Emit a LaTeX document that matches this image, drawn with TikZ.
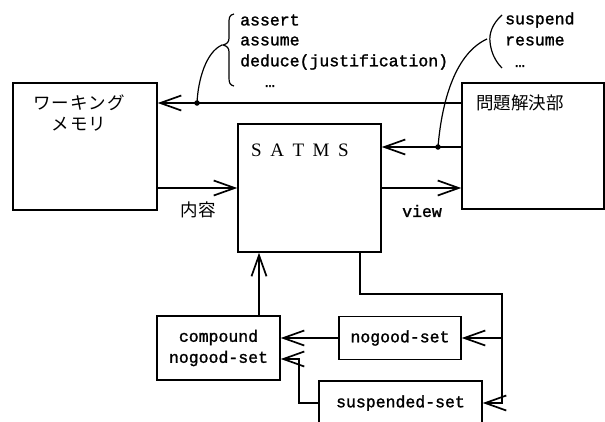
\documentclass[tikz,border=0pt]{standalone}
\usepackage{fontspec}
\setmainfont{Liberation Serif}
\newfontfamily\mono{Liberation Mono}[FakeBold=1.5]
\newfontfamily\jp{Noto Sans CJK JP}
\newfontfamily\jpw{Noto Sans CJK JP}[LetterSpace=6]
\usetikzlibrary{arrows.meta}
\tikzset{
  box/.style={draw, line width=1.5pt, rectangle, inner sep=0pt},
  arr/.style={line width=1.5pt, -{Straight Barb[length=21pt,width=15pt,line width=1.7pt]}},
  thin/.style={line width=1.2pt},
  jtxt/.style={font=\jp\fontsize{17.5}{21}\selectfont, inner sep=0pt, align=center},
  mtxt/.style={font=\mono\fontsize{16.5}{21}\selectfont, inner sep=0pt},
  dot/.style={circle, fill, inner sep=0pt, minimum size=5.5pt}
}
\begin{document}
\begin{tikzpicture}[x=1pt,y=-1pt]
\useasboundingbox (0,0) rectangle (605,421);
% boxes
\node[box, minimum width=144pt, minimum height=127pt] (wm) at (85,146.5) {};
\node[box, minimum width=142pt, minimum height=126pt] (ps) at (533,146) {};
\node[box, minimum width=143pt, minimum height=128pt] (satms) at (309.5,188) {};
\node[box, minimum width=123pt, minimum height=64pt, align=center, font=\mono\fontsize{16.5}{21}\selectfont] (comp) at (218.5,348) {compound\\nogood-set};
\node[box, minimum width=122pt, minimum height=43pt, font=\mono\fontsize{16.5}{21}\selectfont] (ng) at (400,338) {nogood-set};
\node[box, minimum width=163pt, minimum height=44pt, font=\mono\fontsize{16.5}{21}\selectfont] (ss) at (400.5,403) {suspended-set};
% box titles
\node[jtxt, font=\jpw\fontsize{17.5}{21}\selectfont] (wmt) at (79,113) {ワーキング\\メモリ};
\node[jtxt] (pst) at (520,103) {問題解決部};
\node[font=\fontsize{19}{22}\selectfont, inner sep=0pt] (st) at (300,150) {S\hspace{0.45em}A\hspace{0.45em}T\hspace{0.45em}M\hspace{0.45em}S};
% top connectors
\coordinate (d1) at (197,103);
\coordinate (d2) at (438,147);
\draw[arr] (ps.west |- d1) -- (wm.east |- d1);
\draw[arr] (ps.west |- d2) -- (satms.east |- d2);
\node[dot] (dd1) at (d1) {};
\node[dot] (dd2) at (d2) {};
% middle connectors
\coordinate (m) at (0,188);
\draw[arr] (wm.east |- m) -- (satms.west |- m);
\draw[arr] (satms.east |- m) -- (ps.west |- m);
\node[jtxt] (naiyo) at (198,210) {内容};
\node[mtxt] (view) at (422,211) {view};
% lower connectors
\coordinate (u) at (259,0);
\draw[arr] (comp.north -| u) -- (satms.south -| u);
\coordinate (r1) at (360,294);
\coordinate (r2) at (502,294);
\coordinate (r3) at (502,403);
\draw[arr] (satms.south -| r1) -- (r1) -- (r2) -- (r3) -- (ss.east |- r3);
\draw[arr] (r2 |- ng.east) -- (ng.east);
\draw[arr] (ng.west) -- (comp.east |- ng.west);
\coordinate (l1) at (299,403);
\coordinate (l2) at (299,359);
\draw[arr] (ss.west |- l1) -- (l1) -- (l2) -- (comp.east |- l2);
% bracket 1
\draw[thin] (234,14) .. controls (229,15) and (229,18) .. (229,24) -- (229,38)
  .. controls (229,42) and (227,44) .. (223,45)
  .. controls (227,46) and (229,48) .. (229,52) -- (229,78)
  .. controls (229,83) and (230,85) .. (234,86);
\coordinate (b1) at (222,45);
\draw[thin] (dd1.center) .. controls (198,80) and (206,52) .. (b1);
\node[mtxt, anchor=west] (t1) at (240,20) {assert};
\node[mtxt, anchor=west] (t2) at (240,41) {assume};
\node[mtxt, anchor=west] (t3) at (240,62) {deduce(justification)};
\node[mtxt] (t4) at (270,86) {…};
% bracket 2
\draw[thin] (502,15) .. controls (492,24) and (489,34) .. (490,42)
  .. controls (491,52) and (495,61) .. (502,68);
\coordinate (b2) at (487,39);
\draw[thin] (dd2.center) .. controls (441,110) and (452,55) .. (b2);
\node[mtxt, anchor=west] (s1) at (505,20) {suspend};
\node[mtxt, anchor=west] (s2) at (505,41) {resume};
\node[mtxt] (s3) at (520,66) {…};
\end{tikzpicture}
\end{document}
